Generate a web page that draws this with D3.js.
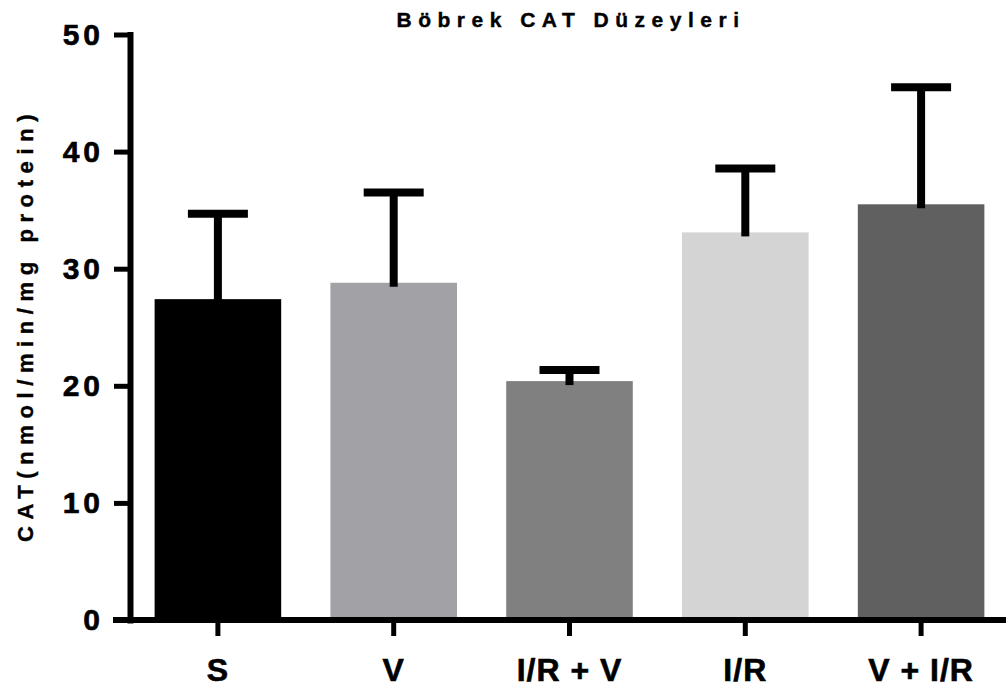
<!DOCTYPE html>
<html>
<head>
<meta charset="utf-8">
<script src="https://cdn.jsdelivr.net/npm/d3@7"></script>
<style>
  body { margin: 0; background: #fff; }
  text { font-family: "Liberation Sans", Arial, sans-serif; font-weight: bold; fill: #000; }
</style>
</head>
<body>
<div id="chartArea"></div>
<script>
var groups = ['S', 'V', 'I/R + V', 'I/R', 'V + I/R'];
var means = [27.4, 28.8, 20.4, 33.1, 35.5];
var errors = [7.3, 7.7, 0.95, 5.45, 10.0];
var barColors = ['#000000', '#a2a1a6', '#808080', '#d4d4d4', '#606060'];
var yTicks = [0, 10, 20, 30, 40, 50];

var w = 1006, h = 693;

var svg = d3.select('#chartArea').append('svg')
    .attr('width', w)
    .attr('height', h);

var xScale = d3.scaleBand()
    .domain(groups)
    .range([130, 1009])
    .paddingInner(0.28)
    .paddingOuter(0.14);

var yScale = d3.scaleLinear()
    .domain([0, 50])
    .range([620, 34.5]);

// bars
svg.selectAll('rect.bar')
    .data(groups)
    .enter()
    .append('rect')
    .attr('class', 'bar')
    .attr('x', function(d) { return xScale(d); })
    .attr('y', function(d, i) { return yScale(means[i]); })
    .attr('width', xScale.bandwidth())
    .attr('height', function(d, i) { return yScale(0) - yScale(means[i]); })
    .attr('fill', function(d, i) { return barColors[i]; });

// error bars (upper only)
var err = svg.selectAll('g.err')
    .data(groups)
    .enter()
    .append('g')
    .attr('class', 'err');

err.append('line')
    .attr('x1', function(d) { return xScale(d) + xScale.bandwidth() / 2; })
    .attr('x2', function(d) { return xScale(d) + xScale.bandwidth() / 2; })
    .attr('y1', function(d, i) { return yScale(means[i]) + 4; })
    .attr('y2', function(d, i) { return yScale(means[i] + errors[i]); })
    .attr('stroke', '#000')
    .attr('stroke-width', 8);

err.append('line')
    .attr('x1', function(d) { return xScale(d) + xScale.bandwidth() / 2 - 30; })
    .attr('x2', function(d) { return xScale(d) + xScale.bandwidth() / 2 + 30; })
    .attr('y1', function(d, i) { return yScale(means[i] + errors[i]); })
    .attr('y2', function(d, i) { return yScale(means[i] + errors[i]); })
    .attr('stroke', '#000')
    .attr('stroke-width', 8);

// y axis
var yAxis = svg.append('g')
    .attr('transform', 'translate(130,0)')
    .call(d3.axisLeft(yScale).tickValues(yTicks).tickSize(16).tickSizeOuter(0).tickPadding(14));

yAxis.select('.domain')
    .attr('stroke', '#000')
    .attr('stroke-width', 6)
    .attr('stroke-linecap', 'square');
yAxis.selectAll('.tick line')
    .attr('stroke', '#000')
    .attr('stroke-width', 5);
yAxis.selectAll('.tick text')
    .attr('font-family', '"Liberation Sans", Arial, sans-serif')
    .attr('font-weight', 'bold')
    .attr('font-size', 30)
    .attr('letter-spacing', 4)
    .attr('fill', '#000')
    .attr('stroke', '#000')
    .attr('stroke-width', 0.6)
    .attr('dx', 4);

// x axis
var xAxis = svg.append('g')
    .attr('transform', 'translate(0,620)')
    .call(d3.axisBottom(xScale).tickSize(16).tickSizeOuter(0).tickPadding(22));

xAxis.select('.domain').remove();
xAxis.append('line')
    .attr('x1', 113)
    .attr('x2', w)
    .attr('y1', 0)
    .attr('y2', 0)
    .attr('stroke', '#000')
    .attr('stroke-width', 6);
xAxis.selectAll('.tick line')
    .attr('stroke', '#000')
    .attr('stroke-width', 5);
xAxis.selectAll('.tick text')
    .attr('font-family', '"Liberation Sans", Arial, sans-serif')
    .attr('font-weight', 'bold')
    .attr('font-size', 32)
    .attr('letter-spacing', 1)
    .attr('fill', '#000')
    .attr('stroke', '#000')
    .attr('stroke-width', 0.6);

// title
svg.append('text')
    .attr('x', 571)
    .attr('y', 27)
    .attr('text-anchor', 'middle')
    .attr('font-size', 21)
    .attr('letter-spacing', 6.5)
    .attr('stroke', '#000')
    .attr('stroke-width', 0.4)
    .text('Böbrek CAT Düzeyleri');

// y label
svg.append('text')
    .attr('transform', 'translate(33,325) rotate(-90)')
    .attr('text-anchor', 'middle')
    .attr('font-size', 22)
    .attr('letter-spacing', 6.6)
    .attr('stroke', '#000')
    .attr('stroke-width', 0.4)
    .text('CAT(nmol/min/mg protein)');
</script>
</body>
</html>
